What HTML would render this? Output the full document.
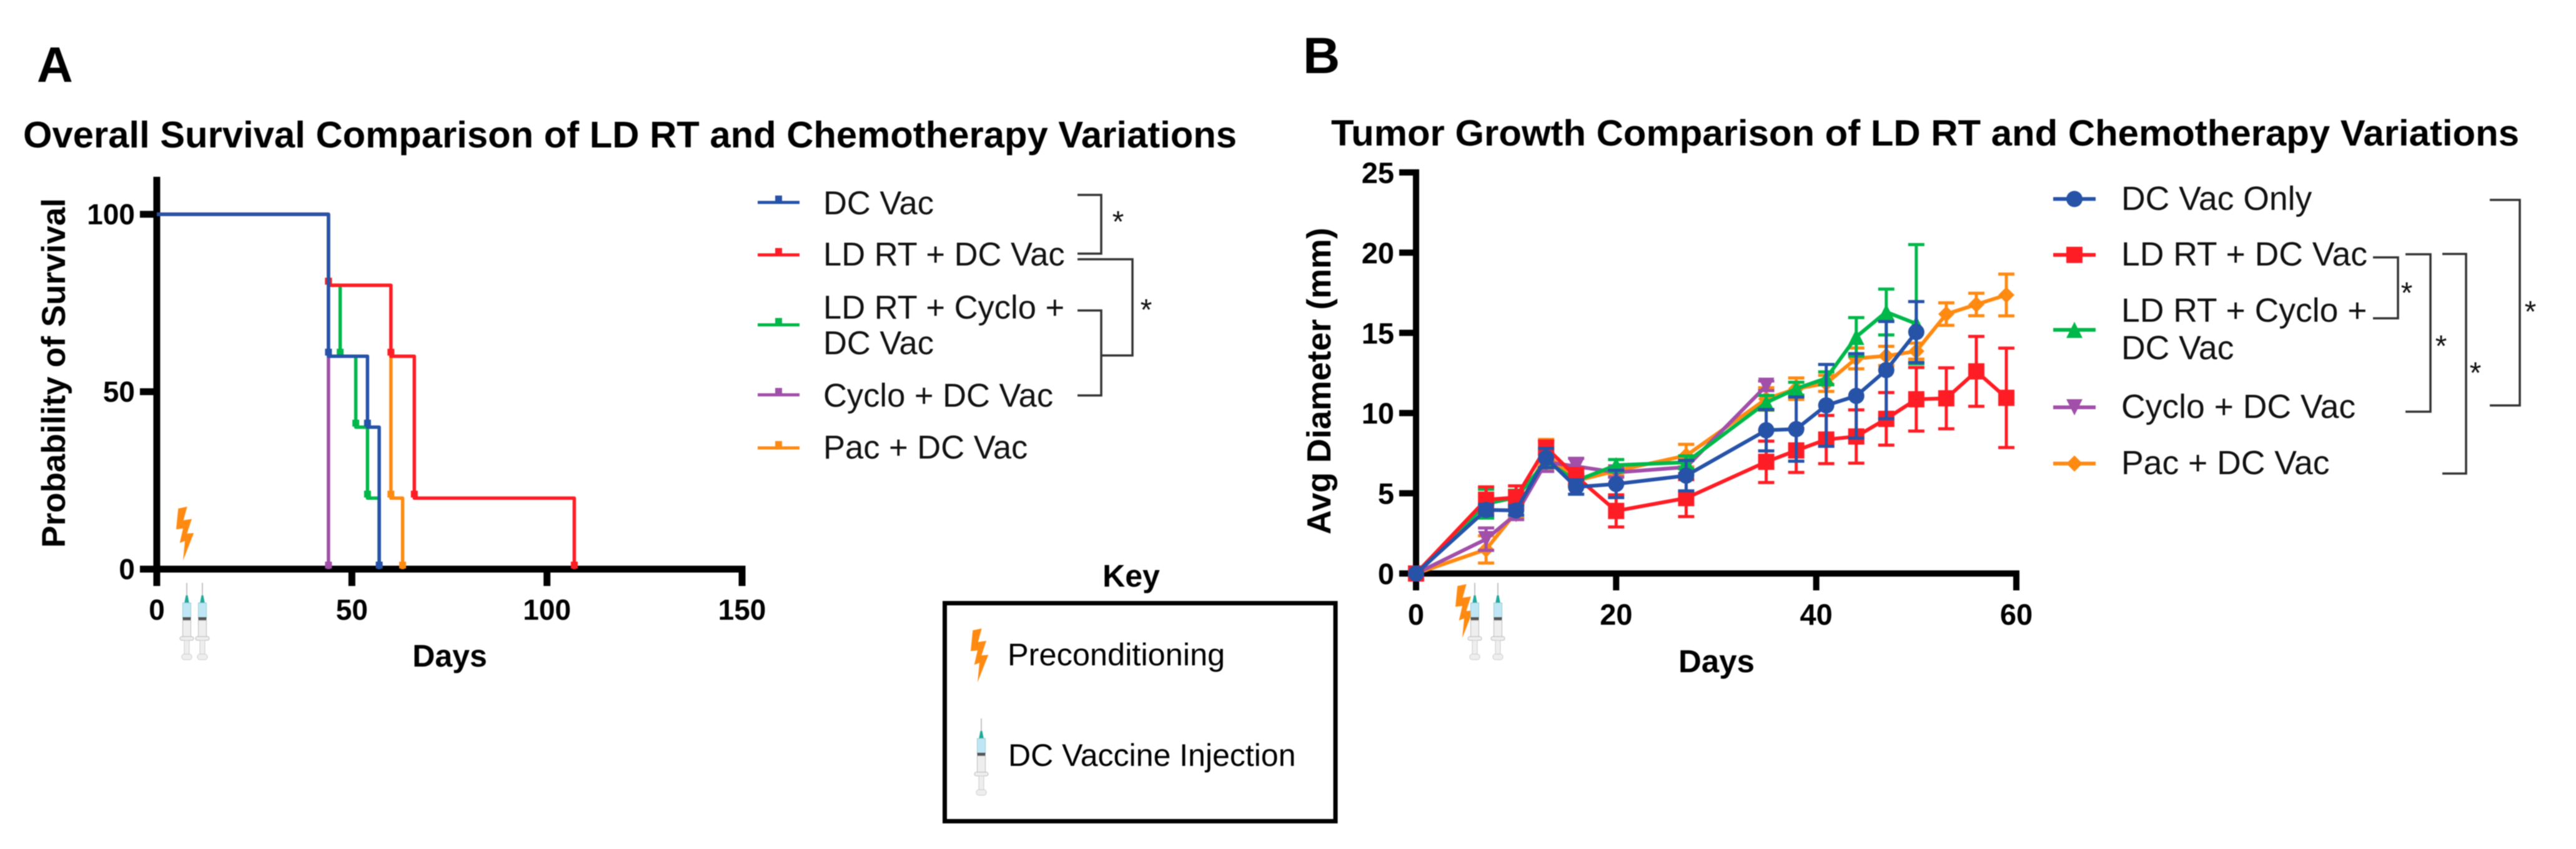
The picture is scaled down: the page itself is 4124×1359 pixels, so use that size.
<!DOCTYPE html>
<html lang="en">
<head>
<meta charset="utf-8">
<title>LD RT and Chemotherapy Variations</title>
<style>
html,body{margin:0;padding:0;background:#fff;}
svg{display:block;filter:blur(0.8px);}
text{font-family:"Liberation Sans",Arial,sans-serif;fill:#000;}
.b{font-weight:700;}
.leg{font-size:52.5px;fill:#111;}
.legb{font-size:53.5px;fill:#111;}
.ast{font-size:48px;text-anchor:middle;fill:#111;}
.br{fill:none;stroke:#333;stroke-width:3.5;}
</style>
</head>
<body>
<svg id="fig" xmlns="http://www.w3.org/2000/svg" width="4124" height="1359" viewBox="0 0 4124 1359">
<defs>
<g id="bolt-shape">
<polygon points="3.3,3 17.7,0 11.7,21.7 25,19.7 17.3,43 28.3,42.3 11,86.3 14,55 5.7,58.3 11,35 0,36.3" fill="#ff8a12"/>
</g>
<g id="syringe-shape">
<line x1="0" y1="0" x2="0" y2="22" stroke="#b5b5b5" stroke-width="1.6"/>
<polygon points="-1.5,20 1.5,20 4,33 -4,33" fill="#1fa99a"/>
<rect x="-6.5" y="32" width="13" height="24" fill="#bfe6f5" stroke="#9cc" stroke-width="1"/>
<rect x="-6.5" y="55" width="13" height="5" fill="#555"/>
<rect x="-6.5" y="60" width="13" height="27" fill="#eeeeee" stroke="#bbb" stroke-width="1"/>
<rect x="-11" y="86" width="22" height="6" rx="3" fill="#eee" stroke="#bbb" stroke-width="1"/>
<rect x="-4" y="92" width="8" height="22" fill="#eee" stroke="#ccc" stroke-width="1"/>
<rect x="-8" y="114" width="16" height="9" rx="4" fill="#eee" stroke="#ccc" stroke-width="1"/>
</g>
</defs>

<text class="b" x="59" y="131" font-size="80">A</text>
<text class="b" x="2086" y="117" font-size="82">B</text>
<text class="b" x="37" y="236" font-size="59" textLength="1943" lengthAdjust="spacingAndGlyphs">Overall Survival Comparison of LD RT and Chemotherapy Variations</text>
<text class="b" x="2131" y="233" font-size="58" textLength="1902" lengthAdjust="spacingAndGlyphs">Tumor Growth Comparison of LD RT and Chemotherapy Variations</text>

<text class="b" font-size="53" text-anchor="middle" transform="translate(104,597) rotate(-90)">Probability of Survival</text>
<text class="b" font-size="50" text-anchor="middle" x="720" y="1067">Days</text>
<text class="b" font-size="54" text-anchor="middle" textLength="491" lengthAdjust="spacingAndGlyphs" transform="translate(2130,610) rotate(-90)">Avg Diameter (mm)</text>
<text class="b" font-size="51" text-anchor="middle" x="2748" y="1076">Days</text>

<g id="survival-layer"></g>
<g id="growth-layer"></g>

<!-- survival annotation icons -->
<use href="#bolt-shape" x="282" y="811"/>
<use href="#syringe-shape" x="299" y="933"/>
<use href="#syringe-shape" x="324" y="933"/>
<!-- growth annotation icons -->
<use href="#bolt-shape" x="2330" y="935"/>
<use href="#syringe-shape" x="2361" y="933"/>
<use href="#syringe-shape" x="2398" y="933"/>

<!-- survival legend -->
<g>
<g>
<line x1="1213" x2="1280" y1="324" y2="324" stroke="#2653a8" stroke-width="5"/><rect x="1241" y="313" width="11" height="11" fill="#2653a8"/>
<text class="leg" x="1318" y="343">DC Vac</text></g>
<g>
<line x1="1213" x2="1280" y1="408" y2="408" stroke="#ff1d25" stroke-width="5"/><rect x="1241" y="397" width="11" height="11" fill="#ff1d25"/>
<text class="leg" x="1318" y="425">LD RT + DC Vac</text></g>
<g>
<line x1="1213" x2="1280" y1="520" y2="520" stroke="#00b84a" stroke-width="5"/><rect x="1241" y="509" width="11" height="11" fill="#00b84a"/>
<text class="leg" x="1318" y="510">LD RT + Cyclo +</text><text class="leg" x="1318" y="567">DC Vac</text></g>
<g>
<line x1="1213" x2="1280" y1="632" y2="632" stroke="#a14fa8" stroke-width="5"/><rect x="1241" y="621" width="11" height="11" fill="#a14fa8"/>
<text class="leg" x="1318" y="651">Cyclo + DC Vac</text></g>
<g>
<line x1="1213" x2="1280" y1="717" y2="717" stroke="#ff8a12" stroke-width="5"/><rect x="1241" y="706" width="11" height="11" fill="#ff8a12"/>
<text class="leg" x="1318" y="734">Pac + DC Vac</text></g>
</g>
<!-- survival significance brackets -->
<path class="br" d="M1725 312H1763V406H1725"/>
<text class="ast" x="1790" y="371">*</text>
<path class="br" d="M1725 415H1813V569H1763"/>
<path class="br" d="M1725 497H1763V633H1725"/>
<text class="ast" x="1835" y="512">*</text>

<!-- key -->
<text class="b" font-size="50" text-anchor="middle" x="1811" y="939">Key</text>
<rect x="1512.5" y="965.5" width="625.5" height="349" fill="none" stroke="#000" stroke-width="7"/>
<use href="#bolt-shape" x="1554" y="1006"/>
<text font-size="50.5" x="1613" y="1065" fill="#111">Preconditioning</text>
<use href="#syringe-shape" x="1571" y="1150"/>
<text font-size="50" x="1614" y="1226" fill="#111">DC Vaccine Injection</text>

<!-- growth legend -->
<g>
<g>
<line x1="3287" x2="3355" y1="318.5" y2="318.5" stroke="#2653a8" stroke-width="6"/><circle cx="3321" cy="318.5" r="13" fill="#2653a8"/>
<text class="legb" x="3396" y="336">DC Vac Only</text></g>
<g>
<line x1="3287" x2="3355" y1="408" y2="408" stroke="#ff1d25" stroke-width="6"/><rect x="3308" y="395" width="26" height="26" fill="#ff1d25"/>
<text class="legb" x="3396" y="425">LD RT + DC Vac</text></g>
<g>
<line x1="3287" x2="3355" y1="528" y2="528" stroke="#00b84a" stroke-width="6"/><polygon points="3321,515 3334,541 3308,541" fill="#00b84a"/>
<text class="legb" x="3396" y="515">LD RT + Cyclo +</text><text class="legb" x="3396" y="575">DC Vac</text></g>
<g>
<line x1="3287" x2="3355" y1="652" y2="652" stroke="#a14fa8" stroke-width="6"/><polygon points="3321,665 3334,639 3308,639" fill="#a14fa8"/>
<text class="legb" x="3396" y="669">Cyclo + DC Vac</text></g>
<g>
<line x1="3287" x2="3355" y1="742" y2="742" stroke="#ff8a12" stroke-width="6"/><polygon points="3321,729 3334,742 3321,755 3308,742" fill="#ff8a12"/>
<text class="legb" x="3396" y="759">Pac + DC Vac</text></g>
</g>
<!-- growth significance brackets -->
<path class="br" d="M3799 412H3839V509.5H3799"/>
<text class="ast" x="3853" y="485">*</text>
<path class="br" d="M3851 407H3891V659H3851"/>
<text class="ast" x="3908" y="570">*</text>
<path class="br" d="M3910 406.5H3948V758H3910"/>
<text class="ast" x="3963" y="613">*</text>
<path class="br" d="M3986 320H4034V649H3986"/>
<text class="ast" x="4051" y="515">*</text>
</svg>

<script>
/* ---------- Panel A data: Kaplan-Meier steps ---------- */
const survivalXTicks = [0, 50, 100, 150];
const survivalYTicks = [0, 50, 100];

const dcVacDays = [0, 44, 54, 57];
const dcVacSurvival = [100, 60, 40, 0];
const ldRtDays = [0, 44, 60, 66, 107];
const ldRtSurvival = [100, 80, 60, 20, 0];
const ldRtCycloDays = [0, 44, 47, 51, 54, 57];
const ldRtCycloSurvival = [100, 80, 60, 40, 20, 0];
const cycloDays = [0, 44];
const cycloSurvival = [100, 0];
const pacDays = [0, 44, 60, 63];
const pacSurvival = [100, 80, 20, 0];

/* ---------- Panel B data: mean diameter with error bars ---------- */
const growthXTicks = [0, 20, 40, 60];
const growthYTicks = [0, 5, 10, 15, 20, 25];
const growthDays = [0, 7, 10, 13, 16, 20, 27, 35, 38, 41, 44, 47, 50, 53, 56, 59];

const dcVacMean = [0, 3.96, 3.93, 7.2, 5.39, 5.58, 6.1, 8.93, 9.0, 10.48, 11.07, 12.68, 15.05];
const dcVacErr = [0, 0.35, 0.3, 0.6, 0.45, 0.85, 0.95, 1.29, 2.0, 2.55, 2.63, 3.03, 1.9];

const ldRtMean = [0, 4.6, 4.74, 7.85, 6.04, 3.9, 4.7, 6.96, 7.67, 8.35, 8.54, 9.64, 10.86, 10.92, 12.6, 10.95];
const ldRtErr = [0, 0.8, 0.72, 0.4, 0.5, 1.0, 1.15, 1.29, 1.37, 1.5, 1.66, 1.64, 1.98, 1.9, 2.18, 3.1];

const ldRtCycloMean = [0, 4.35, 4.74, 7.0, 5.78, 6.75, 6.93, 10.65, 11.52, 12.17, 14.75, 16.3, 15.57];
const ldRtCycloErrUp = [0, 0.9, 0.45, 0.4, 0.35, 0.35, 0.4, 0.45, 0.4, 0.4, 1.2, 1.43, 4.93];
const ldRtCycloErrDown = [0, 0.9, 0.45, 0.4, 0.35, 0.35, 0.4, 0.45, 0.4, 0.4, 1.2, 1.43, 2.5];

const cycloMean = [0, 2.14, 3.7, 6.94, 6.68, 6.3, 6.63, 11.7];
const cycloErr = [0, 0.7, 0.34, 0.58, 0.5, 0.3, 0.4, 0.3];

const pacMean = [0, 1.5, 3.83, 7.46, 5.78, 6.4, 7.35, 10.88, 11.52, 11.85, 13.41, 13.56, 13.86, 16.17, 16.77, 17.36];
const pacErr = [0, 0.85, 0.4, 0.9, 0.3, 0.3, 0.7, 0.7, 0.67, 0.5, 0.65, 0.6, 0.5, 0.7, 0.7, 1.3];

const BLUE = '#2653a8', RED = '#ff1d25', GREEN = '#00b84a', PURPLE = '#a14fa8', ORANGE = '#ff8a12';
const NS = 'http://www.w3.org/2000/svg';

function make(tag, attrs, parent) {
  const el = document.createElementNS(NS, tag);
  for (const k in attrs) el.setAttribute(k, attrs[k]);
  parent.appendChild(el);
  return el;
}

/* axis scales */
const sx = d => 251 + d * (1188 - 251) / 150;
const sy = v => 911 - v * (911 - 343) / 100;
const gx = d => 2267 + d * (3228 - 2267) / 60;
const gy = v => 918 - v * (918 - 276) / 25;

/* ---------- Draw panel A ---------- */
const sLayer = document.getElementById('survival-layer');

const sYAxis = make('rect', {x: 245.5, y: 283, width: 11, height: 655, fill: '#000'}, sLayer);


const sXAxis = make('rect', {x: 224, y: 905.5, width: 969.5, height: 11, fill: '#000'}, sLayer);



survivalXTicks.forEach(t => {
  const tick = make('rect', {x: sx(t) - 5.5, y: 905.5, width: 11, height: 32.5, fill: '#000'}, sLayer);
  
  
  const label = make('text', {x: sx(t), y: 992, 'font-size': 46, 'font-weight': 700, 'text-anchor': 'middle'}, sLayer);
  label.textContent = t;
  
  
});
survivalYTicks.forEach(t => {
  const tick = make('rect', {x: 224, y: sy(t) - 5.5, width: 27, height: 11, fill: '#000'}, sLayer);
  
  
  const label = make('text', {x: 216, y: sy(t) + 16, 'font-size': 46, 'font-weight': 700, 'text-anchor': 'end'}, sLayer);
  label.textContent = t;
  
  
});

function drawSurvival(days, surv, color, name) {
  const group = make('g', {}, sLayer);
  
  
  let d = 'M' + sx(days[0]) + ' ' + sy(surv[0]);
  for (let i = 1; i < days.length; i++) {
    d += 'H' + sx(days[i]) + 'V' + sy(surv[i]);
  }
  const path = make('path', {d: d, fill: 'none', stroke: color, 'stroke-width': 5.5, 'stroke-linejoin': 'round'}, group);
  
  
  for (let i = 1; i < days.length; i++) {
    const m = make('rect', {x: sx(days[i]) - 5.5, y: sy(surv[i]) - 12, width: 11, height: 11, fill: color}, group);
    
    
  }
}
drawSurvival(pacDays, pacSurvival, ORANGE, 'survival-series-pac-dc-vac');
drawSurvival(cycloDays, cycloSurvival, PURPLE, 'survival-series-cyclo-dc-vac');
drawSurvival(ldRtCycloDays, ldRtCycloSurvival, GREEN, 'survival-series-ld-rt-cyclo-dc-vac');
drawSurvival(ldRtDays, ldRtSurvival, RED, 'survival-series-ld-rt-dc-vac');
drawSurvival(dcVacDays, dcVacSurvival, BLUE, 'survival-series-dc-vac');

/* ---------- Draw panel B ---------- */
const gLayer = document.getElementById('growth-layer');

const gYAxis = make('rect', {x: 2262, y: 271, width: 10, height: 674, fill: '#000'}, gLayer);


const gXAxis = make('rect', {x: 2240, y: 913, width: 993, height: 10, fill: '#000'}, gLayer);



growthXTicks.forEach(t => {
  const tick = make('rect', {x: gx(t) - 5, y: 913, width: 10, height: 32, fill: '#000'}, gLayer);
  
  
  const label = make('text', {x: gx(t), y: 1000, 'font-size': 47, 'font-weight': 700, 'text-anchor': 'middle'}, gLayer);
  label.textContent = t;
  
  
});
growthYTicks.forEach(t => {
  const tick = make('rect', {x: 2240, y: gy(t) - 5, width: 27, height: 10, fill: '#000'}, gLayer);
  
  
  const label = make('text', {x: 2232, y: gy(t) + 17, 'font-size': 47, 'font-weight': 700, 'text-anchor': 'end'}, gLayer);
  label.textContent = t;
  
  
});

function drawMarker(shape, x, y, color, group) {
  const r = 13;
  let m;
  if (shape === 'circle') m = make('circle', {cx: x, cy: y, r: r, fill: color}, group);
  if (shape === 'square') m = make('rect', {x: x - r, y: y - r, width: 2 * r, height: 2 * r, fill: color}, group);
  if (shape === 'up') m = make('polygon', {points: [x, y - r, x + r, y + r, x - r, y + r].join(' '), fill: color}, group);
  if (shape === 'down') m = make('polygon', {points: [x, y + r, x + r, y - r, x - r, y - r].join(' '), fill: color}, group);
  if (shape === 'diamond') m = make('polygon', {points: [x, y - r, x + r, y, x, y + r, x - r, y].join(' '), fill: color}, group);
  
  
}

function drawGrowth(mean, errUp, errDown, color, shape, name) {
  const group = make('g', {}, gLayer);
  
  
  const capHalf = 13;
  mean.forEach((v, i) => {
    if (errUp[i] === 0 && errDown[i] === 0) return;
    const x = gx(growthDays[i]);
    const top = gy(v + errUp[i]);
    const bot = gy(v - errDown[i]);
    const bar = make('path', {
      d: 'M' + x + ' ' + top + 'V' + bot +
         'M' + (x - capHalf) + ' ' + top + 'H' + (x + capHalf) +
         'M' + (x - capHalf) + ' ' + bot + 'H' + (x + capHalf),
      fill: 'none', stroke: color, 'stroke-width': 5
    }, group);
    
    
  });
  const pts = mean.map((v, i) => gx(growthDays[i]) + ',' + gy(v)).join(' ');
  const line = make('polyline', {points: pts, fill: 'none', stroke: color, 'stroke-width': 6, 'stroke-linejoin': 'round'}, group);
  
  
  mean.forEach((v, i) => drawMarker(shape, gx(growthDays[i]), gy(v), color, group));
}
drawGrowth(pacMean, pacErr, pacErr, ORANGE, 'diamond', 'growth-series-pac-dc-vac');
drawGrowth(cycloMean, cycloErr, cycloErr, PURPLE, 'down', 'growth-series-cyclo-dc-vac');
drawGrowth(ldRtCycloMean, ldRtCycloErrUp, ldRtCycloErrDown, GREEN, 'up', 'growth-series-ld-rt-cyclo-dc-vac');
drawGrowth(ldRtMean, ldRtErr, ldRtErr, RED, 'square', 'growth-series-ld-rt-dc-vac');
drawGrowth(dcVacMean, dcVacErr, dcVacErr, BLUE, 'circle', 'growth-series-dc-vac-only');
</script>
</body>
</html>
